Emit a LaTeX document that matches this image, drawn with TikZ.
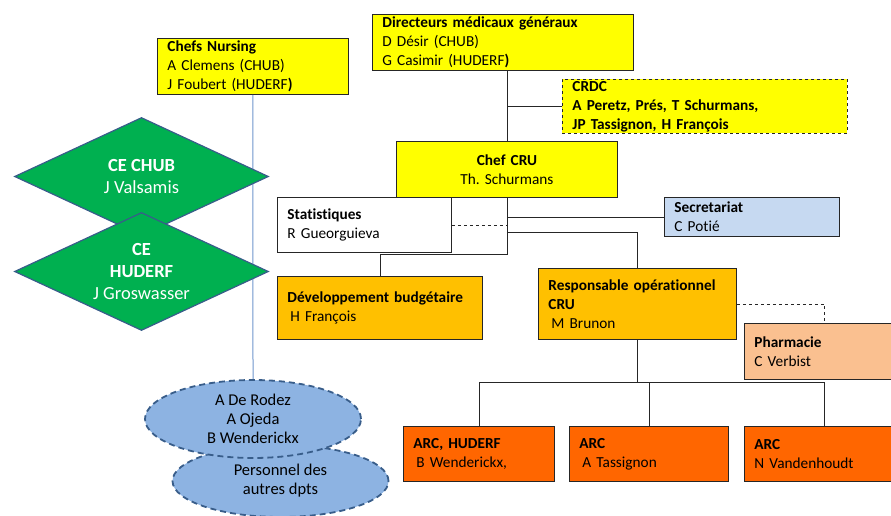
\documentclass[tikz,border=0pt]{standalone}
\usepackage{fontspec}
\setmainfont{Carlito}[Ligatures=NoCommon]
\usetikzlibrary{shapes.geometric}

\definecolor{jaune}{HTML}{FFFF00}
\definecolor{orangeclair}{HTML}{FFC000}
\definecolor{orangefonce}{HTML}{FF6600}
\definecolor{bleuclair}{HTML}{C6D9F1}
\definecolor{saumon}{HTML}{FAC090}
\definecolor{vert}{HTML}{00B050}
\definecolor{bleuellipse}{HTML}{8DB3E2}
\definecolor{bordbleu}{HTML}{385D8A}
\definecolor{lienbleu}{HTML}{6F95CC}

\begin{document}
\frenchspacing
\begin{tikzpicture}[
  x=1pt, y=-1pt,
  every node/.style={font=\fontsize{15.3}{19}\selectfont},
  boite/.style={draw=black!85, line width=0.9pt, rectangle, anchor=north west,
    inner xsep=10pt, inner ysep=0pt, align=left},
  losange/.style={diamond, draw=bordbleu, line width=1.2pt, fill=vert,
    text=white, inner sep=0pt, aspect=2.15, minimum width=254pt,
    minimum height=118pt, align=center,
    font=\fontsize{18.5}{22}\selectfont},
  bulle/.style={ellipse, draw=bordbleu, line width=1.8pt,
    dash pattern=on 6pt off 4pt, fill=bleuellipse, inner sep=0pt,
    minimum width=216pt, align=center,
    font=\fontsize{16.5}{19}\selectfont},
  lien/.style={draw=black!85, line width=0.9pt},
]

\useasboundingbox (0,0) rectangle (891,516);

% Direction
\node[boite, fill=jaune, text width=241pt, minimum height=56pt] (dirmed) at (372,14)
  {\textbf{Directeurs médicaux généraux}\\D Désir (CHUB)\\G Casimir (HUDERF\textbf{)}};
\node[boite, fill=jaune, text width=171pt, minimum height=56pt] (nursing) at (157,38)
  {\textbf{Chefs Nursing}\\A Clemens (CHUB)\\J Foubert (HUDERF\textbf{)}};
\node[boite, fill=jaune, dashed, text width=265pt, minimum height=54pt] (crdc) at (562,79)
  {\textbf{CRDC}\\\textbf{A Peretz, Prés, T Schurmans,}\\\textbf{JP Tassignon,\ H François}};
\node[boite, fill=jaune, text width=201pt, minimum height=56pt, align=center] (chef) at (396,141)
  {\textbf{Chef CRU}\\Th. Schurmans};

% Services
\node[boite, fill=white, text width=154pt, minimum height=55pt] (stats) at (277,197)
  {\textbf{Statistiques}\\R Gueorguieva};
\node[boite, fill=bleuclair, text width=155pt, minimum height=39pt] (secr) at (664,197)
  {\textbf{Secretariat}\\C Potié};
\node[boite, fill=orangeclair, text width=185pt, minimum height=63pt] (budget) at (277,276)
  {\textbf{Développement budgétaire}\\\hspace{3pt}H François};
\node[boite, fill=orangeclair, text width=178pt, minimum height=71pt] (respop) at (538,268)
  {\textbf{Responsable opérationnel}\\\textbf{CRU}\\\hspace{3pt}M Brunon};
\node[boite, fill=saumon, text width=140pt, minimum height=56pt] (pharma) at (744,323)
  {\textbf{Pharmacie}\\C Verbist};

% ARC
\node[boite, fill=orangefonce, text width=131pt, minimum height=55pt] (arc1) at (403,426)
  {\textbf{ARC, HUDERF}\\\hspace{3pt}B Wenderickx,};
\node[boite, fill=orangefonce, text width=139pt, minimum height=55pt] (arc2) at (569,426)
  {\textbf{ARC}\\\hspace{3pt}A Tassignon};
\node[boite, fill=orangefonce, text width=140pt, minimum height=55pt] (arc3) at (744,426)
  {\textbf{ARC}\\N Vandenhoudt};

% Ligne nursing
\node[bulle, minimum height=72pt] (autres) at (280.5,481) {Personnel des\\autres dpts};
\draw[lienbleu, line width=1pt] (nursing.south) -- (253,380);
\node[bulle, minimum height=78pt] (equipe) at (253,419) {A De Rodez\\A Ojeda\\B Wenderickx};

% Comites d'ethique
\node[losange] (cechub) at (141.5,176.5) {\textbf{CE CHUB}\\J Valsamis};
\node[losange] (cehuderf) at (141.5,271.5) {\textbf{CE}\\\textbf{HUDERF}\\J Groswasser};

% Connecteurs
\draw[lien] (chef.north) -- (chef.north |- dirmed.south);
\draw[lien] (crdc.west) -- (crdc.west -| chef.north);
\draw[lien] (chef.south) -- ++(0,57) -| (budget.north);
\draw[lien, dashed] (stats.east) -- (stats.east -| chef.south);
\draw[lien] (secr.west) -- (secr.west -| chef.south);
\draw[lien] (chef.south) ++(0,35) -| (respop.north);
\draw[lien, dashed] (respop.east) -| (pharma.north);
\draw[lien] (respop.south) -- ++(0,43) coordinate (bus);
\draw[lien] (arc1.north) |- (bus) -| (arc3.north);
\draw[lien] (arc2.north) -- (arc2.north |- bus);

\end{tikzpicture}
\end{document}
